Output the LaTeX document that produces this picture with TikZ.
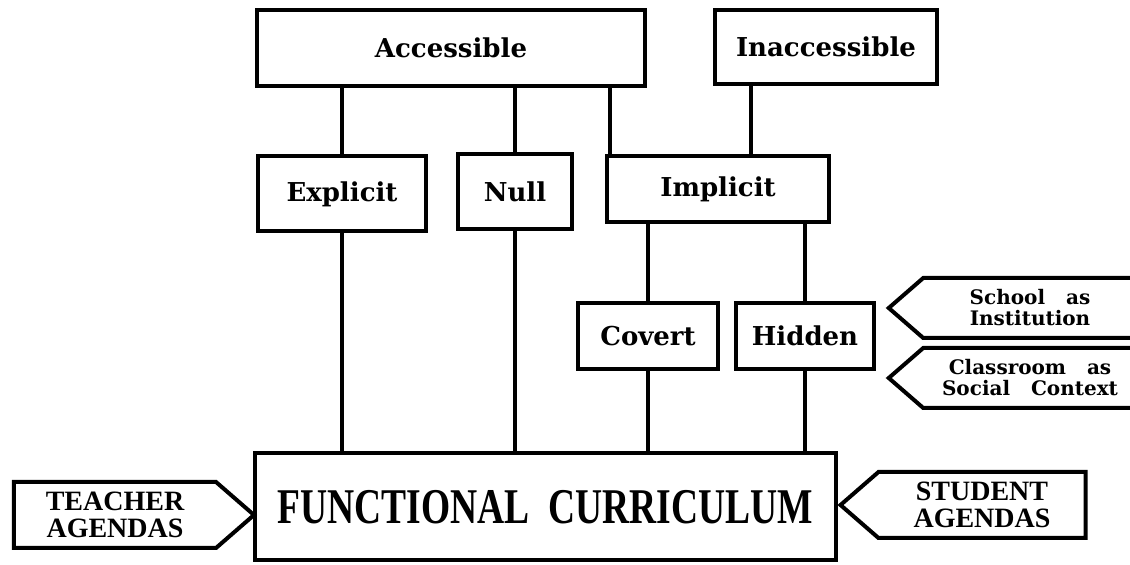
\documentclass[tikz,border=0pt]{standalone}
\usepackage{fontspec}
\setmainfont{Liberation Serif}
\newfontfamily\boxfont{DejaVu Serif}
\usetikzlibrary{shapes.symbols}

\tikzset{
  lvlbox/.style={draw, line width=2pt, inner sep=0pt, font=\boxfont\bfseries\fontsize{13}{13}\selectfont},
  agendasign/.style={draw, line width=2pt, signal, signal pointer angle=82, inner sep=0pt, align=center,
    font=\bfseries\fontsize{14}{13.5}\selectfont},
  contextsign/.style={draw, line width=2pt, signal, signal to=west, signal pointer angle=82, inner sep=0pt, align=center,
    font=\boxfont\bfseries\fontsize{10}{10.5}\selectfont},
  link/.style={line width=2pt}
}

\begin{document}
\begin{tikzpicture}[x=0.5pt,y=-0.5pt]
\useasboundingbox (0,0) rectangle (1130,565);

% top level
\node [lvlbox, minimum width=194pt, minimum height=38pt] (acc) at (451,48) {Accessible};
\node [lvlbox, minimum width=111pt, minimum height=37pt] (inacc) at (826,47) {Inaccessible};

% middle level
\node [lvlbox, minimum width=84pt, minimum height=37.5pt] (expl) at (342,194) {Explicit};
\node [lvlbox, minimum width=57pt, minimum height=37.5pt] (null) at (515,192) {Null};
\node [lvlbox, minimum width=111pt, minimum height=33pt] (impl) at (718,189) {Implicit};

% under implicit
\node [lvlbox, minimum width=70pt, minimum height=33pt] (covert) at (648,336) {Covert};
\node [lvlbox, minimum width=69pt, minimum height=33pt] (hidden) at (805,336) {Hidden};

% bottom
\node [draw, line width=2pt, minimum width=290.5pt, minimum height=53.5pt,
  font=\bfseries\fontsize{25}{25}\selectfont] (func) at (545,507) {\scalebox{0.75}[1]{FUNCTIONAL\ \ CURRICULUM}};

% agendas
\node [agendasign, signal to=east, minimum width=120pt, minimum height=33pt] (teacher) at (115,515) {TEACHER\\AGENDAS};
\node [agendasign, signal to=west, minimum width=122.5pt, minimum height=33pt] (student) at (982,505) {STUDENT\\AGENDAS};

% context
\node [contextsign, minimum width=124pt, minimum height=30pt] (school) at (1030,308) {School\ \ \ as\\Institution};
\node [contextsign, minimum width=124pt, minimum height=30pt] (classroom) at (1030,378) {Classroom\ \ \ as\\Social\ \ \ Context};

% Connections
\draw [link] (acc.south -| expl.north) -- (expl.north);
\draw [link] (acc.south -| null.north) -- (null.north);
\draw [link] ([xshift=2.5pt]impl.north west |- acc.south) -- ([xshift=2.5pt]impl.north west);
\draw [link] ([xshift=19pt]inacc.south west) -- ([xshift=19pt]inacc.south west |- impl.north);
\draw [link] (impl.south -| covert.north) -- (covert.north);
\draw [link] (impl.south -| hidden.north) -- (hidden.north);
\draw [link] (expl.south) -- (func.north -| expl.south);
\draw [link] (null.south) -- (func.north -| null.south);
\draw [link] (covert.south) -- (func.north -| covert.south);
\draw [link] (hidden.south) -- (func.north -| hidden.south);

\end{tikzpicture}
\end{document}
